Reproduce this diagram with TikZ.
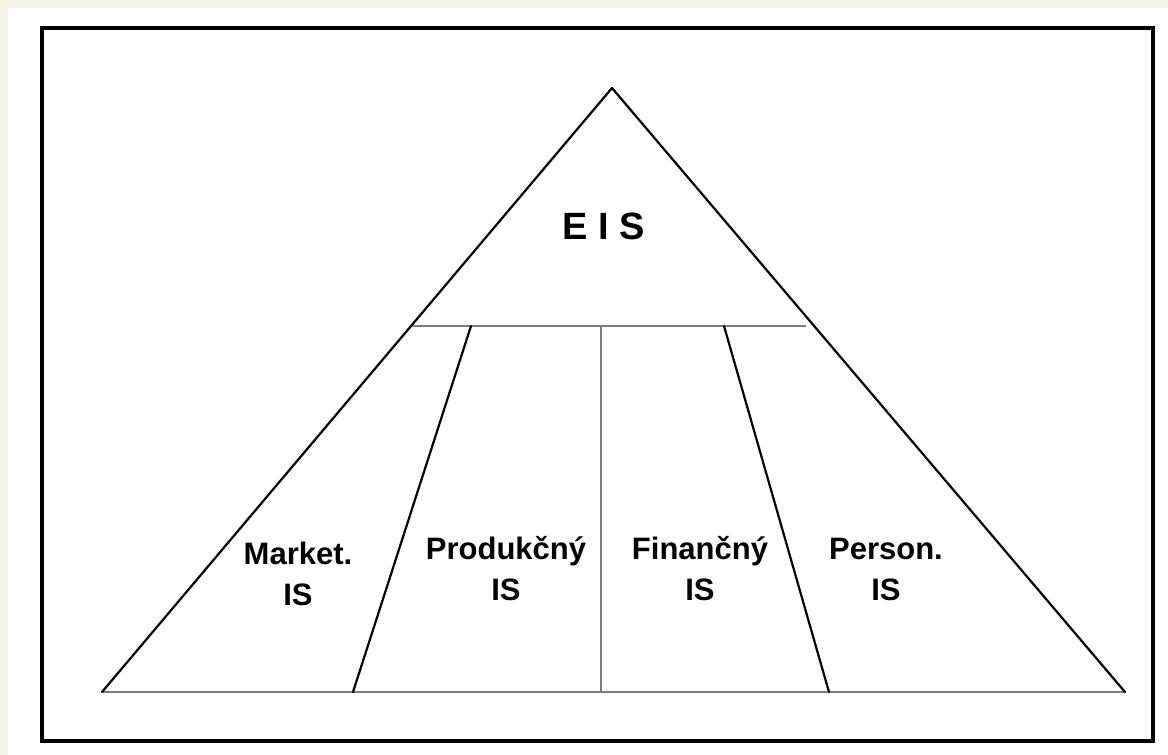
\documentclass[tikz,border=0pt]{standalone}
\usepackage{fontspec}
\setmainfont{Liberation Sans}
\usepackage[svgnames]{xcolor}
\definecolor{paper}{RGB}{244,242,230}
\definecolor{rulegrey}{RGB}{125,125,125}
\begin{document}
\begin{tikzpicture}[x=1pt,y=-1pt,
    side/.style={line width=2.2pt,black,line cap=round},
    split/.style={line width=2.6pt,rulegrey},
    part/.style={font=\bfseries\fontsize{31}{41}\selectfont,align=center,anchor=base,inner sep=0pt}]
  \fill[paper] (0,0) rectangle (1168,755);
  \fill[white] (8,8) rectangle (1168,755);
  \draw[line width=3.2pt] (42,28) rectangle (1153,741);
  \coordinate (apex) at (612,88);
  \coordinate (baseL) at (102,692);
  \coordinate (baseR) at (1125,692);
  \coordinate (midL) at (411,326);
  \coordinate (midR) at (806,326);
  \foreach \n/\t/\b in {1/471/353, 2/601/601, 3/724/829}{
    \coordinate (top\n) at (\t,326);
    \coordinate (bot\n) at (\b,692);
  }
  \draw[split] (baseL) -- (baseR);
  \draw[split] (midL) -- (midR);
  \draw[split] (top2) -- (bot2);
  \draw[side] (top1) -- (bot1);
  \draw[side] (top3) -- (bot3);
  \draw[side,line join=round] (baseL) -- (apex) -- (baseR);
  \node[part,font=\bfseries\fontsize{38}{40}\selectfont] (eis) at (604,239) {E I S};
  \node[part] (market) at (298,605) {Market.\\IS};
  \node[part] (produkcny) at (506,600) {Produkčný\\IS};
  \node[part] (financny) at (700,600) {Finančný\\IS};
  \node[part] (person) at (886,600) {Person.\\IS};
\end{tikzpicture}
\end{document}
